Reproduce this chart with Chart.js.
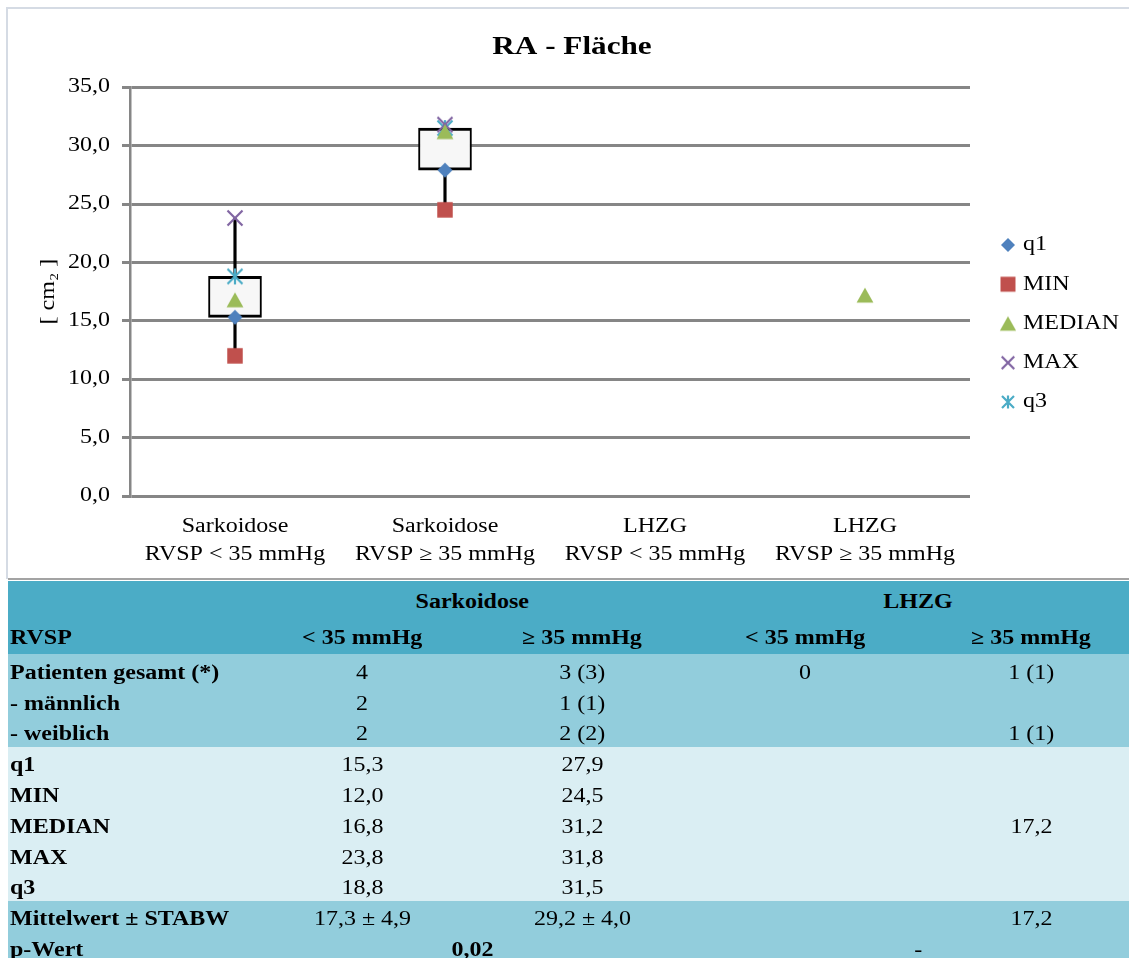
<!DOCTYPE html>
<html lang="de">
<head>
<meta charset="utf-8">
<title>RA - Fläche</title>
<script src="https://cdn.jsdelivr.net/npm/chart.js@4.4.1/dist/chart.umd.min.js"></script>
<style>
  html, body { margin: 0; padding: 0; background: #fff; }
  body {
    width: 1129px; height: 958px; overflow: hidden; position: relative;
    font-family: 'Liberation Serif', 'Times New Roman', serif; color: #000;
  }
  #frame {
    position: absolute; left: 6px; top: 7px; width: 1140px; height: 572px;
    border-top: 2px solid #D5DBE4; border-left: 2px solid #D5DBE4; box-sizing: border-box;
  }
  #chart { position: absolute; left: 0; top: 0; }
  #rule { position: absolute; left: 8px; top: 578px; width: 1130px; height: 2px; background: #A3A3A3; }
  #stats {
    position: absolute; left: 8px; top: 581px;
    border-collapse: collapse; table-layout: fixed; width: 1136px;
    font-size: 20px;
  }
  #stats td { padding: 3px 0 0 0; text-align: center; vertical-align: middle; white-space: nowrap; overflow: visible; }
  #stats td.lbl { text-align: left; padding-left: 2px; font-weight: bold; }
  #stats td.b { font-weight: bold; }
  #stats td span { display: inline-block; transform: scaleX(1.2); transform-origin: center; }
  #stats td.lbl span { transform-origin: left center; }
  #stats tr.head td { background: #4BACC6; }
  #stats tr.mid td { background: #92CDDC; }
  #stats tr.light td { background: #DAEEF3; }
</style>
</head>
<body>
<div id="frame"></div>
<canvas id="chart" width="1129" height="580"></canvas>
<div id="rule"></div>
<table id="stats">
  <colgroup>
    <col style="width:244px"><col style="width:220px"><col style="width:220px"><col style="width:226px"><col style="width:226px">
  </colgroup>
  <tbody id="statsBody"></tbody>
</table>

<script>
// ---- values ----
const categories = [
  ['Sarkoidose', 'RVSP < 35 mmHg'],
  ['Sarkoidose', 'RVSP ≥ 35 mmHg'],
  ['LHZG', 'RVSP < 35 mmHg'],
  ['LHZG', 'RVSP ≥ 35 mmHg']
];
const q1     = [15.3, 27.9, null, null];
const minV   = [12.0, 24.5, null, null];
const median = [16.8, 31.2, null, 17.2];
const maxV   = [23.8, 31.8, null, null];
const q3     = [18.8, 31.5, null, null];
const meanV  = [17.3, 29.2, null, 17.2];
const sdV    = [4.9, 4.0, null, null];
const yTicks = [0, 5, 10, 15, 20, 25, 30, 35];

const patientsTotal  = ['4', '3 (3)', '0', '1 (1)'];
const patientsMale   = ['2', '1 (1)', '', ''];
const patientsFemale = ['2', '2 (2)', '', '1 (1)'];
const groupHeads = ['Sarkoidose', 'LHZG'];
const rvspHeads  = ['< 35 mmHg', '≥ 35 mmHg', '< 35 mmHg', '≥ 35 mmHg'];
const pValues    = ['0,02', '-'];

const SERIF = "'Liberation Serif', 'Times New Roman', serif";
const fmt = v => (v === null || v === undefined) ? '' : v.toFixed(1).replace('.', ',');

// ---- statistics table ----
(function buildTable() {
  const body = document.getElementById('statsBody');
  const cell = (txt, cls, span) =>
    `<td${cls ? ` class="${cls}"` : ''}${span ? ` colspan="${span}"` : ''}>${txt !== '' ? `<span>${txt}</span>` : ''}</td>`;
  const row = (cls, h, cells) => `<tr class="${cls}" style="height:${h}px">${cells}</tr>`;
  let html = '';
  html += row('head', 37, cell('', 'lbl') + cell(groupHeads[0], 'b', 2) + cell(groupHeads[1], 'b', 2));
  html += row('head', 36, cell('RVSP', 'lbl') + rvspHeads.map(t => cell(t, 'b')).join(''));
  html += row('mid', 33, cell('Patienten gesamt (*)', 'lbl') + patientsTotal.map(t => cell(t)).join(''));
  html += row('mid', 30, cell('- männlich', 'lbl') + patientsMale.map(t => cell(t)).join(''));
  html += row('mid', 30, cell('- weiblich', 'lbl') + patientsFemale.map(t => cell(t)).join(''));
  const stats = [['q1', q1], ['MIN', minV], ['MEDIAN', median], ['MAX', maxV], ['q3', q3]];
  stats.forEach(([name, arr], i) => {
    html += row('light', i === 4 ? 30 : 31, cell(name, 'lbl') + arr.map(v => cell(fmt(v))).join(''));
  });
  const meanTxt = meanV.map((m, i) => m === null ? '' : (sdV[i] === null ? fmt(m) : `${fmt(m)} ± ${fmt(sdV[i])}`));
  html += row('mid', 32, cell('Mittelwert ± STABW', 'lbl') + meanTxt.map(t => cell(t)).join(''));
  html += row('mid', 30, cell('p-Wert', 'lbl') + cell(pValues[0], 'b', 2) + cell(pValues[1], '', 2));
  body.innerHTML = html;
})();

// ---- chart ----
const canvas = document.getElementById('chart');
const ctx = canvas.getContext('2d');

// Text in this figure is set in Times with a 120 % horizontal expansion.
const TEXT_EXPAND = 1.2;
const nativeFill = CanvasRenderingContext2D.prototype.fillText;
ctx.fillText = function (text, x, y, maxWidth) {
  this.save();
  this.translate(x, y);
  this.scale(TEXT_EXPAND, 1);
  if (maxWidth === undefined) nativeFill.call(this, text, 0, 0);
  else nativeFill.call(this, text, 0, 0, maxWidth / TEXT_EXPAND);
  this.restore();
};

// Marker glyphs, drawn once onto small canvases and centred on the point.
function marker(shape, color, size) {
  const S = 26, m = S / 2, h = size / 2;
  const c = document.createElement('canvas');
  c.width = c.height = S;
  const g = c.getContext('2d');
  g.fillStyle = color; g.strokeStyle = color; g.lineWidth = 2.2;
  g.beginPath();
  if (shape === 'diamond') {
    g.moveTo(m, m - h); g.lineTo(m + h, m); g.lineTo(m, m + h); g.lineTo(m - h, m); g.closePath(); g.fill();
  } else if (shape === 'square') {
    g.rect(m - h, m - h, size, size); g.fill();
  } else if (shape === 'triangle') {
    const hw = h * 1.12;
    g.moveTo(m, m - h); g.lineTo(m + hw, m + h); g.lineTo(m - hw, m + h); g.closePath(); g.fill();
  } else if (shape === 'x') {
    g.moveTo(m - h, m - h); g.lineTo(m + h, m + h); g.moveTo(m + h, m - h); g.lineTo(m - h, m + h); g.stroke();
  } else if (shape === 'asterisk') {
    g.moveTo(m - h, m - h); g.lineTo(m + h, m + h); g.moveTo(m + h, m - h); g.lineTo(m - h, m + h);
    g.moveTo(m, m - h - 0.5); g.lineTo(m, m + h + 0.5); g.stroke();
  }
  return c;
}

const series = [
  { label: 'q1',     data: q1,     shape: 'diamond',  color: '#4F81BD', size: 15,   legendSize: 14 },
  { label: 'MIN',    data: minV,   shape: 'square',   color: '#C0504D', size: 15.5, legendSize: 15 },
  { label: 'MEDIAN', data: median, shape: 'triangle', color: '#9BBB59', size: 15,   legendSize: 14.5 },
  { label: 'MAX',    data: maxV,   shape: 'x',        color: '#8064A2', size: 15,   legendSize: 12.5 },
  { label: 'q3',     data: q3,     shape: 'asterisk', color: '#4BACC6', size: 15,   legendSize: 12 }
];
const legendGlyphs = series.map(s => marker(s.shape, s.color, s.legendSize));

// layout: the plot spans x 130..970, the legend column takes the rest
const LEGEND_FONT = 20, LEGEND_PAD = 19.25, LEGEND_BOX_W = 10;
const probe = document.createElement('canvas').getContext('2d');
probe.font = `${LEGEND_FONT}px ${SERIF}`;
const widest = Math.max(...series.map(s => probe.measureText(s.label).width));
const legendWidth = LEGEND_PAD + LEGEND_BOX_W + LEGEND_FONT / 2 + widest + 10;
const PLOT_LEFT = 130, PLOT_RIGHT = 970, W = 1129;
const padRight = Math.max(0, W - PLOT_RIGHT - legendWidth);
const padLeft = padRight + 15;

const boxData = q1.map((v, i) => (v === null || q3[i] === null) ? null : [v, q3[i]]);
const lowWhisker = q1.map((v, i) => (v === null || minV[i] === null) ? null : [minV[i], v]);
const highWhisker = q3.map((v, i) => (v === null || maxV[i] === null) ? null : [v, maxV[i]]);

const markerSets = series.map((s, i) => ({
  type: 'line', label: s.label, data: s.data, order: i + 1,
  showLine: false,
  pointStyle: marker(s.shape, s.color, s.size), pointRadius: 8, pointHoverRadius: 8,
  backgroundColor: s.color, borderColor: s.color, borderWidth: 1
}));

const legendPlacement = {
  id: 'legendPlacement',
  afterLayout(chart) {
    const lg = chart.legend;
    if (!lg || !lg.columnSizes || !lg.columnSizes.length) return;
    const colH = lg.columnSizes[0].height;
    const curX = lg.left + LEGEND_PAD + LEGEND_BOX_W / 2;
    const curY = (lg.top + LEGEND_PAD + lg.bottom - colH) / 2 + LEGEND_FONT / 2;
    const dx = 1008 - curX, dy = 245 - curY;
    lg.left += dx; lg.top += dy; lg.bottom += dy;
    lg.right = W;
  }
};

new Chart(ctx, {
  type: 'bar',
  data: {
    labels: categories,
    datasets: [
      ...markerSets,
      {
        type: 'bar', label: 'box', data: boxData, order: 11, grouped: false,
        barThickness: 53, backgroundColor: '#F7F7F7', borderColor: '#000',
        borderWidth: { top: 3, bottom: 3, left: 2, right: 2 }, borderSkipped: false
      },
      {
        type: 'bar', label: 'whisker-low', data: lowWhisker, order: 12, grouped: false,
        barThickness: 2.5, backgroundColor: '#000', borderWidth: 0
      },
      {
        type: 'bar', label: 'whisker-high', data: highWhisker, order: 12, grouped: false,
        barThickness: 2.5, backgroundColor: '#000', borderWidth: 0
      }
    ]
  },
  options: {
    responsive: false,
    animation: false,
    devicePixelRatio: 1,
    events: [],
    layout: { padding: { left: padLeft, right: padRight, top: 6, bottom: 0 } },
    plugins: {
      title: {
        display: true, text: 'RA - Fläche', color: '#000',
        font: { family: SERIF, size: 26, weight: 'bold' },
        padding: { top: 26, bottom: 24 }
      },
      legend: {
        position: 'right', fullSize: false,
        labels: {
          usePointStyle: true, boxWidth: LEGEND_BOX_W, boxHeight: 11, padding: LEGEND_PAD,
          color: '#000', font: { family: SERIF, size: LEGEND_FONT },
          generateLabels(chart) {
            const items = Chart.defaults.plugins.legend.labels.generateLabels(chart);
            return items
              .filter(it => it.datasetIndex < series.length)
              .map(it => Object.assign(it, { pointStyle: legendGlyphs[it.datasetIndex], rotation: 0 }));
          }
        }
      },
      tooltip: { enabled: false }
    },
    scales: {
      x: {
        grid: { display: false },
        border: { display: false },
        ticks: {
          color: '#000', font: { family: SERIF, size: 20, lineHeight: 1.4 },
          padding: 9, maxRotation: 0, minRotation: 0, autoSkip: false
        },
        afterFit: s => { s.height = 84; }
      },
      y: {
        min: 0, max: 35,
        afterBuildTicks: s => { s.ticks = yTicks.map(v => ({ value: v })); },
        ticks: { color: '#000', font: { family: SERIF, size: 20 }, padding: 12, callback: v => fmt(v) },
        grid: { color: '#868686', lineWidth: 3, tickLength: 8, tickColor: '#868686', tickWidth: 3 },
        border: { display: true, color: '#868686', width: 2.5 },
        title: {
          display: true, text: '[ cm₂ ]', color: '#000',
          font: { family: SERIF, size: 20 },
          padding: { top: 49 - padLeft - 12, bottom: 0 }
        },
        afterFit: s => { s.width = PLOT_LEFT - padLeft; }
      }
    }
  },
  plugins: [legendPlacement]
});
</script>
</body>
</html>
